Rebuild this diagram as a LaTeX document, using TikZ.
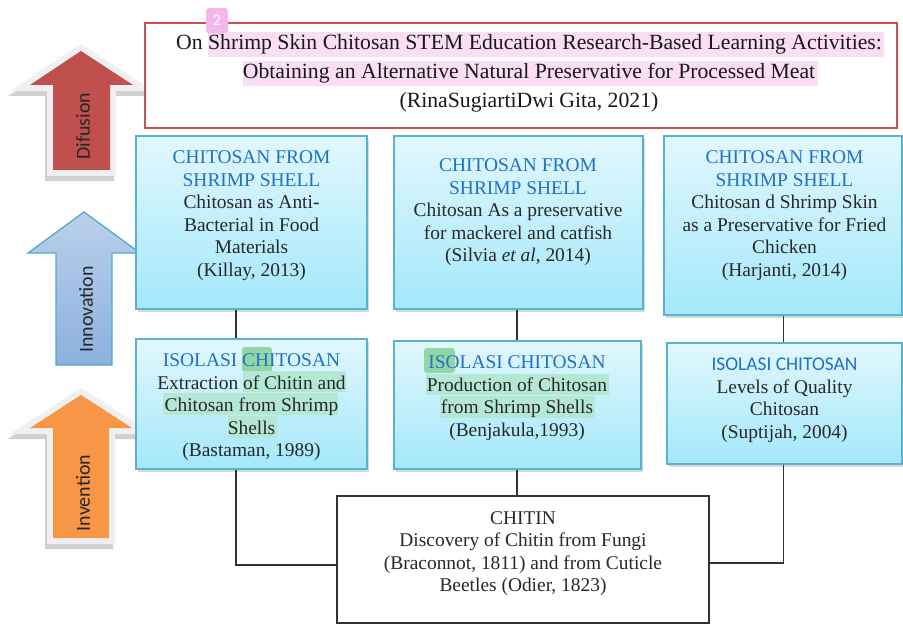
\documentclass[tikz,border=0pt]{standalone}
\usepackage{fontspec}
\setmainfont{Liberation Serif}
\newfontfamily\calibri{Carlito}
\usetikzlibrary{shadows,calc}

\definecolor{hdr}{RGB}{31,114,196}
\definecolor{bodytxt}{RGB}{40,40,40}
\definecolor{boxtop}{RGB}{226,247,253}
\definecolor{boxbot}{RGB}{163,232,251}
\definecolor{boxline}{RGB}{88,178,208}
\definecolor{titleline}{RGB}{200,82,82}
\definecolor{diffred}{RGB}{192,80,77}
\definecolor{innotop}{RGB}{187,208,236}
\definecolor{innobot}{RGB}{140,176,222}
\definecolor{innoline}{RGB}{80,170,200}
\definecolor{invorange}{RGB}{247,150,70}
\definecolor{rim}{RGB}{240,240,240}
\definecolor{pinkhl}{RGB}{250,222,245}
\definecolor{pinkbadge}{RGB}{244,184,236}
\definecolor{greenhl}{RGB}{180,232,212}
\definecolor{greenmark}{RGB}{146,214,168}
\definecolor{connline}{RGB}{50,50,50}

\tikzset{
  stepbox/.style={draw=boxline, line width=1.3bp, top color=boxtop, bottom color=boxbot,
    drop shadow={shadow xshift=2bp, shadow yshift=-3bp, opacity=.3}, inner sep=0pt},
  txt/.style={align=center, text=bodytxt, inner sep=0pt,
    font=\fontsize{19.5}{22.6}\selectfont},
  conn/.style={draw=connline, line width=1.4bp},
  arrowlabel/.style={rotate=90, text=black!85, inner sep=0pt,
    font=\calibri\fontsize{20}{20}\selectfont},
  rimshadow/.style={transparency group, opacity=.3},
}
\newcommand{\hd}[1]{{\color{hdr}#1}}

\begin{document}
\begin{tikzpicture}[x=1bp, y=-1bp]
\useasboundingbox (0,0) rectangle (903,625);
\fill[white] (0,0) rectangle (903,625);

% ---- stage arrows ----
% Difusion (red, with light rim)
\begin{scope}[rimshadow]
  \filldraw[black!60, line width=12bp, line join=miter, xshift=-2bp, yshift=-5bp]
    (81,51) -- (133,85) -- (110,85) -- (110,170) -- (53,170) -- (53,85) -- (30,85) -- cycle;
\end{scope}
\draw[rim, line width=12bp, line join=miter, fill=rim]
  (81,51) -- (133,85) -- (110,85) -- (110,170) -- (53,170) -- (53,85) -- (30,85) -- cycle;
\fill[diffred]
  (81,51) -- (133,85) -- (110,85) -- (110,170) -- (53,170) -- (53,85) -- (30,85) -- cycle;
\node[arrowlabel] (difusion) at (83,126) {Difusion};

% Innovation (blue)
\path[draw=innoline, line width=1.3bp, top color=innotop, bottom color=innobot]
  (84,212) -- (140,253) -- (112,253) -- (112,365) -- (56,365) -- (56,253) -- (28,253) -- cycle;
\node[arrowlabel] (innovation) at (86,309.5) {Innovation};

% Invention (orange, with light rim)
\begin{scope}[rimshadow]
  \filldraw[black!60, line width=12bp, line join=miter, xshift=-2bp, yshift=-5bp]
    (81,395) -- (132,428) -- (109,428) -- (109,538) -- (53,538) -- (53,428) -- (30,428) -- cycle;
\end{scope}
\draw[rim, line width=12bp, line join=miter, fill=rim]
  (81,395) -- (132,428) -- (109,428) -- (109,538) -- (53,538) -- (53,428) -- (30,428) -- cycle;
\fill[invorange]
  (81,395) -- (132,428) -- (109,428) -- (109,538) -- (53,538) -- (53,428) -- (30,428) -- cycle;
\node[arrowlabel] (invention) at (83,493) {Invention};

% ---- connector positions ----
\coordinate (xA) at (236,0);
\coordinate (xB) at (517,0);
\coordinate (xC) at (783.5,0);
\coordinate (yL) at (0,565);
\coordinate (yR) at (0,563);

% ---- boxes ----
\node[draw=titleline, line width=1.5bp, fill=white, minimum width=752bp, minimum height=105bp]
  (title) at (521,75.5) {};

\node[stepbox, minimum width=231bp, minimum height=173bp] (A) at (251.5,222.5) {};
\node[stepbox, minimum width=249bp, minimum height=173bp] (B) at (518.5,222.5) {};
\node[stepbox, minimum width=238bp, minimum height=179bp] (C) at (783,225.5) {};
\node[stepbox, minimum width=231bp, minimum height=130bp] (D) at (251.5,404) {};
\node[stepbox, minimum width=247bp, minimum height=128bp] (E) at (517.5,405) {};
\node[stepbox, minimum width=235bp, minimum height=121bp] (F) at (784.5,403.5) {};
\node[draw=connline, line width=1.5bp, fill=white, minimum width=372bp, minimum height=127bp]
  (chitin) at (523,559.5) {};

% ---- connectors ----
\draw[conn] (A.south -| xA) -- (D.north -| xA);
\draw[conn] (B.south -| xB) -- (E.north -| xB);
\draw[conn] (C.south -| xC) -- (F.north -| xC);
\draw[conn] (D.south -| xA) |- (chitin.west |- yL);
\draw[conn] (E.south -| xB) -- (chitin.north -| xB);
\draw[conn] (F.south -| xC) |- (chitin.east |- yR);

% ---- highlight marks ----
\fill[pinkhl] (208,32) rectangle (884,57);
\fill[pinkhl] (243,61) rectangle (818,86);
\fill[greenmark, rounded corners=3bp] (242,347) rectangle (272,372);
\fill[greenhl] (243,371) rectangle (346,392);
\fill[greenhl] (163,393) rectangle (338,415);
\fill[greenhl] (228,416) rectangle (277,438);
\fill[greenmark, rounded corners=3bp] (424,348) rectangle (455,373);
\fill[greenhl] (426,374) rectangle (609,395);
\fill[greenhl] (440,396) rectangle (595,418);

% ---- texts ----
\node[txt, text=black!90, font=\fontsize{21.8}{29}\selectfont] (titletext) at (529,73.5)
  {On Shrimp Skin Chitosan STEM Education Research-Based Learning Activities:\\
   Obtaining an Alternative Natural Preservative for Processed Meat\\
   (RinaSugiartiDwi Gita, 2021)};
\node[fill=pinkbadge, rounded corners=3bp, minimum width=22bp, minimum height=25bp, inner sep=0pt,
  text=white, font=\calibri\fontsize{16}{16}\selectfont] (badge) at (217,20.5) {2};

\node[txt] (tA) at (251.5,215.5)
  {\hd{CHITOSAN FROM}\\\hd{SHRIMP SHELL}\\Chitosan as Anti-\\Bacterial in Food\\Materials\\(Killay, 2013)};
\node[txt] (tB) at (518,212.5)
  {\hd{CHITOSAN FROM}\\\hd{SHRIMP SHELL}\\Chitosan As a preservative\\for mackerel and catfish\\(Silvia \textit{et al}, 2014)};
\node[txt] (tC) at (784.5,215.5)
  {\hd{CHITOSAN FROM}\\\hd{SHRIMP SHELL}\\Chitosan d Shrimp Skin\\as a Preservative for Fried\\Chicken\\(Harjanti, 2014)};
\node[txt] (tD) at (251.5,407.5)
  {\hd{ISOLASI CHITOSAN}\\Extraction of Chitin and\\Chitosan from Shrimp\\Shells\\(Bastaman, 1989)};
\node[txt] (tE) at (517,398)
  {\hd{ISOLASI CHITOSAN}\\Production of Chitosan\\from Shrimp Shells\\(Benjakula,1993)};
\node[txt] (tF) at (784.5,400.5)
  {\hd{\calibri ISOLASI CHITOSAN}\\Levels of Quality\\Chitosan\\(Suptijah, 2004)};
\node[txt] (tChitin) at (523,553.5)
  {CHITIN\\Discovery of Chitin from Fungi\\(Braconnot, 1811) and from Cuticle\\Beetles (Odier, 1823)};
\end{tikzpicture}
\end{document}
